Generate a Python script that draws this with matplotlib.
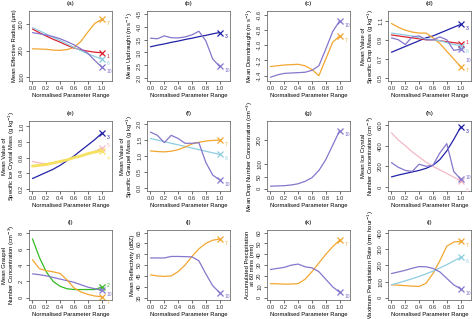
import numpy as np
import matplotlib
matplotlib.use("Agg")
import matplotlib.pyplot as plt

plt.rcParams['font.family'] = ['Liberation Sans', 'DejaVu Sans']

x = [0.0, 0.1, 0.2, 0.3, 0.4, 0.5, 0.6, 0.7, 0.8, 0.9, 1.0]

C = {1: "#E02030", 2: "#33BB22", 3: "#2222A8", 4: "#F5E060", 5: "#F4B8C4",
     6: "#8ECDE2", 7: "#F2A630", 10: "#8676CC"}

# (a) Mean Effective Radius
a_series = {
    7: [207, 206, 205, 202, 201, 204, 212, 235, 270, 303, 318],
    1: [282, 268, 255, 243, 232, 220, 210, 203, 198, 194, 192],
    6: [287, 275, 263, 250, 238, 225, 212, 200, 188, 178, 168],
    10: [268, 264, 259, 253, 245, 234, 222, 207, 190, 163, 138],
}
# (b) Mean Updraught
b_series = {
    3: [3.22, 3.28, 3.33, 3.39, 3.44, 3.50, 3.55, 3.61, 3.66, 3.72, 3.77],
    10: [3.55, 3.53, 3.64, 3.57, 3.56, 3.60, 3.68, 3.82, 3.45, 2.75, 2.46],
}
# (c) Mean Downdraught
c_series = {
    7: [-1.28, -1.27, -1.26, -1.255, -1.25, -1.27, -1.32, -1.40, -1.18, -0.96, -0.88],
    10: [-1.42, -1.39, -1.37, -1.365, -1.36, -1.355, -1.33, -1.27, -1.05, -0.82, -0.68],
}
# (d) Mean Value of Specific Drop Mass
d_series = {
    3: [0.77, 0.80, 0.83, 0.86, 0.89, 0.92, 0.94, 0.97, 1.00, 1.03, 1.06],
    7: [1.07, 1.03, 1.00, 0.98, 0.97, 0.97, 0.92, 0.86, 0.78, 0.70, 0.62],
    1: [0.95, 0.94, 0.93, 0.92, 0.91, 0.90, 0.90, 0.89, 0.88, 0.87, 0.86],
    6: [0.97, 0.96, 0.95, 0.94, 0.92, 0.91, 0.90, 0.89, 0.87, 0.85, 0.84],
    10: [0.92, 0.90, 0.85, 0.93, 0.94, 0.90, 0.90, 0.93, 0.90, 0.79, 0.80],
}
# (e) Mean Value of Specific Ice Crystal Mass
e_series = {
    3: [0.33, 0.37, 0.41, 0.45, 0.50, 0.56, 0.62, 0.69, 0.76, 0.83, 0.91],
    5: [0.55, 0.53, 0.52, 0.53, 0.54, 0.57, 0.60, 0.62, 0.65, 0.68, 0.72],
    4: [0.49, 0.50, 0.51, 0.53, 0.55, 0.57, 0.60, 0.62, 0.65, 0.67, 0.69],
}
# (f) Mean Value of Specific Graupel Mass
f_series = {
    6: [1.55, 1.50, 1.45, 1.40, 1.35, 1.30, 1.25, 1.20, 1.15, 1.10, 1.05],
    7: [1.16, 1.14, 1.13, 1.15, 1.20, 1.28, 1.38, 1.43, 1.47, 1.49, 1.50],
    10: [1.75, 1.65, 1.42, 1.65, 1.55, 1.40, 1.40, 1.42, 0.80, 0.40, 0.25],
}
# (g) Mean Drop Number Concentration
g_series = {
    10: [10, 11, 12, 15, 20, 30, 45, 75, 120, 180, 240],
}
# (h) Mean Ice Crystal Number Concentration
h_series = {
    3: [97, 115, 130, 145, 160, 180, 210, 265, 350, 460, 580],
    5: [525, 455, 400, 340, 290, 240, 200, 165, 130, 95, 55],
    10: [235, 190, 160, 150, 220, 200, 210, 330, 420, 150, 75],
}
# (i) Mean Graupel Number Concentration
i_series = {
    2: [7.3, 5.0, 3.2, 2.0, 1.4, 1.1, 1.0, 1.0, 1.0, 1.0, 1.3],
    10: [2.95, 2.85, 2.7, 2.5, 2.3, 2.1, 1.9, 1.6, 1.3, 1.1, 0.9],
    7: [4.7, 3.6, 3.35, 3.2, 3.0, 2.2, 1.2, 0.7, 0.4, 0.2, 0.1],
}
# (j) Mean Reflectivity
j_series = {
    7: [45.5, 45.0, 44.8, 45.0, 47.0, 50.0, 54.0, 57.5, 60.0, 61.5, 62.0],
    10: [53.3, 53.3, 53.3, 54.0, 54.0, 53.9, 53.8, 52.0, 46.0, 40.5, 37.3],
}
# (k) Accumulated Precipitation at 60 mins
k_series = {
    7: [13, 12.8, 12.5, 12.6, 13, 17, 24, 32, 40, 47, 53],
    10: [26, 27, 28, 30, 31, 28.5, 27.5, 24, 17, 10, 5],
}
# (l) Maximum Precipitation Rate
l_series = {
    7: [80, 78, 75, 72, 70, 90, 150, 230, 320, 345, 350],
    6: [80, 92, 105, 118, 132, 148, 165, 185, 205, 228, 250],
    10: [150, 160, 170, 183, 193, 192, 182, 160, 120, 80, 55],
}

panels = [
    ("(a)", "Mean Effective Radius (\u03bcm)", a_series, (85, 350), [100, 200, 300], {}),
    ("(b)", "Mean Updraught (m s$^{-1}$)", b_series, (1.9, 4.6), [2.0, 2.5, 3.0, 3.5, 4.0, 4.5], {}),
    ("(c)", "Mean Downdraught (m s$^{-1}$)", c_series, (-1.47, -0.55), [-1.4, -1.2, -1.0, -0.8, -0.6], {}),
    ("(d)", "Mean Value of\nSpecific Drop Mass (g kg$^{-1}$)", d_series, (0.47, 1.2), [0.5, 0.7, 0.9, 1.1],
     {1: 1, 6: -4, 10: -8}),
    ("(e)", "Mean Value of\nSpecific Ice Crystal Mass (g kg$^{-1}$)", e_series, (0.17, 1.07), [0.2, 0.4, 0.6, 0.8, 1.0],
     {5: 2, 4: -6}),
    ("(f)", "Mean Value of\nSpecific Graupel Mass (g kg$^{-1}$)", f_series, (-0.1, 2.1), [0.0, 0.5, 1.0, 1.5, 2.0], {}),
    ("(g)", "Mean Drop Number Concentration (cm$^{-3}$)", g_series, (-10, 280), [0, 50, 100, 200], {}),
    ("(h)", "Mean Ice Crystal\nNumber Concentration (cm$^{-3}$)", h_series, (-40, 640), [0, 200, 400, 600],
     {10: 1, 5: -7}),
    ("(i)", "Mean Graupel\nNumber Concentration (cm$^{-3}$)", i_series, (-0.3, 8.4), [0, 2, 4, 6, 8],
     {2: 1, 10: -3, 7: -4}),
    ("(j)", "Mean Reflectivity (dBZ)", j_series, (33.9, 66.2), [35, 40, 45, 50, 55, 60, 65], {}),
    ("(k)", "Accumulated Precipitation\nat 60 mins (mm)", k_series, (-2.1, 62.4), [0, 10, 20, 30, 40, 50, 60], {}),
    ("(l)", "Maximum Precipitation Rate (mm hour$^{-1}$)", l_series, (-14, 420), [0, 100, 200, 300, 400], {}),
]

W, H = 477, 319
fig = plt.figure(figsize=(W / 100, H / 100), dpi=100)
col_left = [29, 147, 267, 388]
row_top = [11, 121, 230]
aw, ah = 83, 70


def fmt(t):
    if isinstance(t, float):
        return f"{t:.1f}"
    return str(t)


fs = 4.2
for idx, (title, ylabel, series, ylim, yticks, offs) in enumerate(panels):
    r, c = divmod(idx, 4)
    left = col_left[c] / W
    bottom = 1 - (row_top[r] + ah) / H
    ax = fig.add_axes([left, bottom, aw / W, ah / H])
    for k, vals in series.items():
        lw = 2.0 if k == 4 else 0.9
        ax.plot(x, vals, color=C[k], lw=lw, solid_capstyle='round')
        ax.plot([x[-1]], [vals[-1]], marker='x', color=C[k], ms=4.5, mew=0.9)
        dy = offs.get(k, -3)
        ax.annotate(str(k), (x[-1], vals[-1]), xytext=(3.5, dy), textcoords='offset points',
                    color=C[k], fontsize=3.6, va='center', ha='left')
    ax.set_xlim(-0.05, 1.15)
    ax.set_ylim(*ylim)
    ax.set_xticks([0.0, 0.2, 0.4, 0.6, 0.8, 1.0])
    ax.set_xticklabels(["0.0", "0.2", "0.4", "0.6", "0.8", "1.0"])
    ax.set_yticks(yticks)
    ax.set_yticklabels([fmt(t) for t in yticks], rotation=90, va='center')
    ax.tick_params(labelsize=fs, length=2, width=0.5, pad=1.5, colors='#333333')
    for s in ax.spines.values():
        s.set_linewidth(0.5)
        s.set_color('#555555')
    ax.set_xlabel("Normalised Parameter Range", fontsize=fs, labelpad=1.5)
    ax.set_ylabel(ylabel, fontsize=fs, labelpad=1.5, linespacing=1.0)
    ax.set_title(title, fontsize=fs + 0.4, pad=4)

fig.savefig("out.png", dpi=100)
